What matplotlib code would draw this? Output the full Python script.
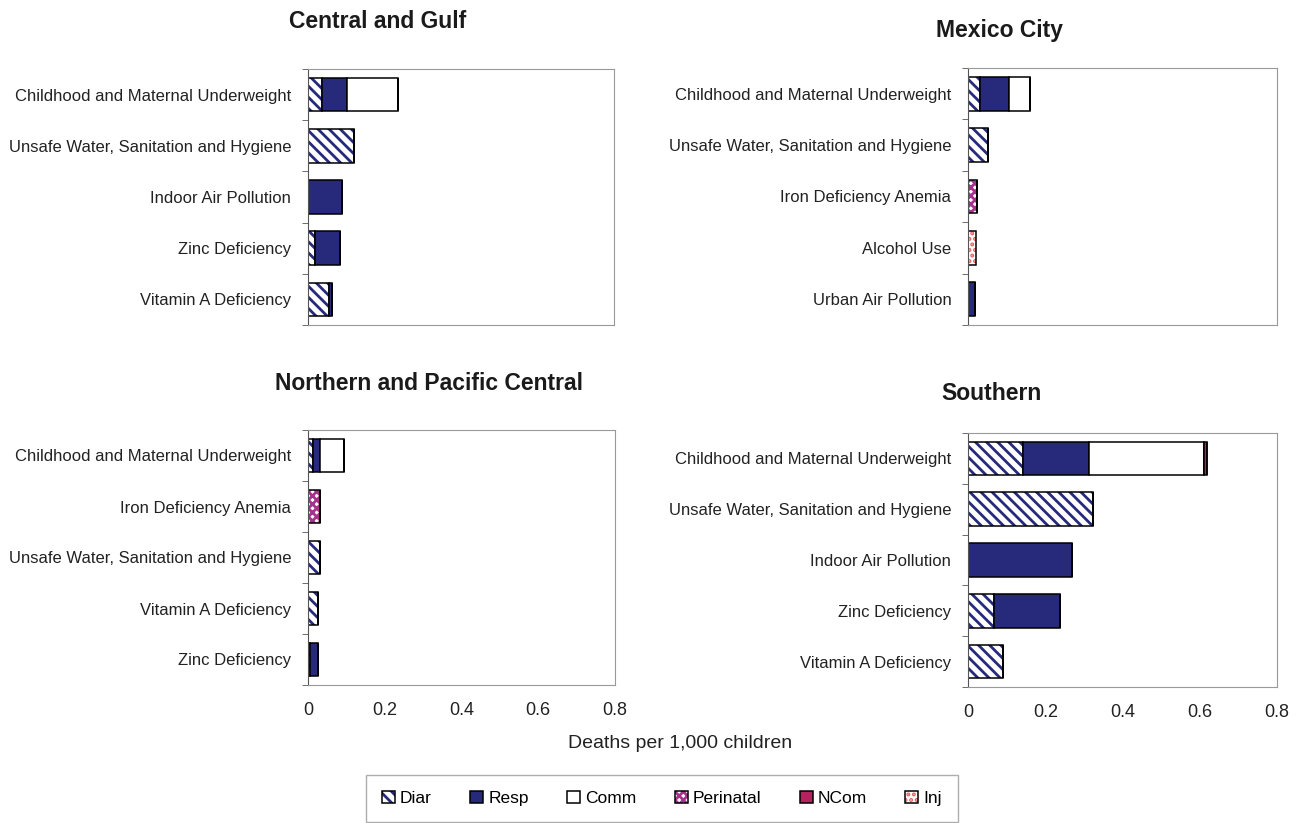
import numpy as np
import matplotlib.pyplot as plt
from matplotlib.patches import Patch
from matplotlib.legend_handler import HandlerTuple

plt.rcParams['font.family'] = ['Liberation Sans', 'DejaVu Sans']
plt.rcParams['hatch.linewidth'] = 2.0

causes = ['Diar', 'Resp', 'Comm', 'Perinatal', 'NCom', 'Inj']

# Central and Gulf
cg_labels = ['Childhood and Maternal Underweight', 'Unsafe Water, Sanitation and Hygiene',
             'Indoor Air Pollution', 'Zinc Deficiency', 'Vitamin A Deficiency']
cg_diar = [0.037, 0.121, 0.0, 0.018, 0.055]
cg_resp = [0.064, 0.0, 0.088, 0.066, 0.008]
cg_comm = [0.133, 0.0, 0.0, 0.0, 0.0]
cg_peri = [0.0, 0.0, 0.0, 0.0, 0.0]
cg_ncom = [0.0, 0.0, 0.0, 0.0, 0.0]
cg_inj = [0.0, 0.0, 0.0, 0.0, 0.0]

# Mexico City
mc_labels = ['Childhood and Maternal Underweight', 'Unsafe Water, Sanitation and Hygiene',
             'Iron Deficiency Anemia', 'Alcohol Use', 'Urban Air Pollution']
mc_diar = [0.031, 0.052, 0.0, 0.0, 0.0]
mc_resp = [0.075, 0.0, 0.0, 0.0, 0.018]
mc_comm = [0.055, 0.0, 0.0, 0.0, 0.0]
mc_peri = [0.0, 0.0, 0.024, 0.0, 0.0]
mc_ncom = [0.0, 0.0, 0.0, 0.0, 0.0]
mc_inj = [0.0, 0.0, 0.0, 0.022, 0.0]

# Northern and Pacific Central
np_labels = ['Childhood and Maternal Underweight', 'Iron Deficiency Anemia',
             'Unsafe Water, Sanitation and Hygiene', 'Vitamin A Deficiency', 'Zinc Deficiency']
np_diar = [0.012, 0.0, 0.031, 0.027, 0.005]
np_resp = [0.019, 0.0, 0.0, 0.0, 0.022]
np_comm = [0.063, 0.0, 0.0, 0.0, 0.0]
np_peri = [0.0, 0.031, 0.0, 0.0, 0.0]
np_ncom = [0.0, 0.0, 0.0, 0.0, 0.0]
np_inj = [0.0, 0.0, 0.0, 0.0, 0.0]

# Southern
so_labels = ['Childhood and Maternal Underweight', 'Unsafe Water, Sanitation and Hygiene',
             'Indoor Air Pollution', 'Zinc Deficiency', 'Vitamin A Deficiency']
so_diar = [0.143, 0.323, 0.0, 0.067, 0.091]
so_resp = [0.171, 0.0, 0.270, 0.171, 0.0]
so_comm = [0.296, 0.0, 0.0, 0.0, 0.0]
so_peri = [0.0, 0.0, 0.0, 0.0, 0.0]
so_ncom = [0.009, 0.0, 0.0, 0.0, 0.0]
so_inj = [0.0, 0.0, 0.0, 0.0, 0.0]

navy = '#272a7a'
# (facecolor, hatch, hatch colour) per cause
styles = {
    'Diar': ('white', '\\\\\\', navy),
    'Resp': (navy, None, navy),
    'Comm': ('white', None, 'white'),
    'Perinatal': ('white', 'xxxx', '#a3348a'),
    'NCom': ('#b3245f', None, '#b3245f'),
    'Inj': ('white', '...', '#e06060'),
}

fig = plt.figure(figsize=(12.97, 8.23), dpi=100)
W, H = 1297, 823


def make_axes(x0, x1, y0, y1):
    return fig.add_axes([x0 / W, 1 - y1 / H, (x1 - x0) / W, (y1 - y0) / H])


def panel(ax, labels, series, show_x):
    y = np.arange(len(labels))
    left = np.zeros(len(labels))
    for cause, vals in zip(causes, series):
        vals = np.array(vals)
        fc, hatch, hc = styles[cause]
        ax.barh(y, vals, left=left, height=0.66, color=fc, hatch=hatch,
                edgecolor=hc, linewidth=0)
        ax.barh(y, vals, left=left, height=0.66, fill=False,
                edgecolor='black', linewidth=1.1)
        left = left + vals
    ax.set_xlim(0, 0.8)
    ax.set_ylim(len(labels) - 0.5, -0.5)
    ax.set_yticks(y)
    ax.set_yticklabels(labels, fontsize=12, color='#222222')
    ax.set_yticks(np.arange(len(labels) + 1) - 0.5, minor=True)
    ax.tick_params(axis='y', which='major', length=0, pad=12)
    ax.tick_params(axis='y', which='minor', length=4, color='#555555')
    ax.set_xticks([0, 0.2, 0.4, 0.6, 0.8])
    ax.set_xticklabels(['0', '0.2', '0.4', '0.6', '0.8'] if show_x else [],
                       fontsize=13, color='#222222')
    ax.tick_params(axis='x', length=0, pad=12)
    for s in ['top', 'right', 'bottom']:
        ax.spines[s].set_color('#999999')
    ax.spines['left'].set_color('#555555')


ax1 = make_axes(308, 614, 69, 325)
ax2 = make_axes(968, 1277, 68, 325)
ax3 = make_axes(308, 615, 430, 685)
ax4 = make_axes(968, 1277, 433, 687)

panel(ax1, cg_labels, [cg_diar, cg_resp, cg_comm, cg_peri, cg_ncom, cg_inj], False)
panel(ax2, mc_labels, [mc_diar, mc_resp, mc_comm, mc_peri, mc_ncom, mc_inj], False)
panel(ax3, np_labels, [np_diar, np_resp, np_comm, np_peri, np_ncom, np_inj], True)
panel(ax4, so_labels, [so_diar, so_resp, so_comm, so_peri, so_ncom, so_inj], True)

tkw = dict(fontsize=16.5, fontweight='bold', ha='center', va='center', color='#1a1a1a')
fig.text(378 / W, 1 - 22 / H, 'Central and Gulf', **tkw)
fig.text(1000 / W, 1 - 30 / H, 'Mexico City', **tkw)
fig.text(429 / W, 1 - 384 / H, 'Northern and Pacific Central', **tkw)
fig.text(991 / W, 1 - 393 / H, 'Southern', **tkw)

fig.text(680 / W, 1 - 744 / H, 'Deaths per 1,000 children', fontsize=14,
         ha='center', va='center', color='#222222')

handles = []
for cause in causes:
    fc, hatch, hc = styles[cause]
    fill = Patch(facecolor=fc, hatch=hatch, edgecolor=hc, linewidth=0)
    edge = Patch(fill=False, edgecolor='black', linewidth=1.1)
    handles.append((fill, edge))

leg = fig.legend(handles, causes, handler_map={tuple: HandlerTuple(ndivide=1)},
                 loc='upper center', bbox_to_anchor=(662 / W, 1 - 775 / H), ncol=6,
                 fontsize=12.5, frameon=True, fancybox=False, edgecolor='#999999',
                 handlelength=0.75, handleheight=0.75, handletextpad=0.3,
                 columnspacing=2.2, borderpad=0.9, borderaxespad=0)
leg.get_frame().set_linewidth(1.0)

fig.savefig('out.png', dpi=100)
